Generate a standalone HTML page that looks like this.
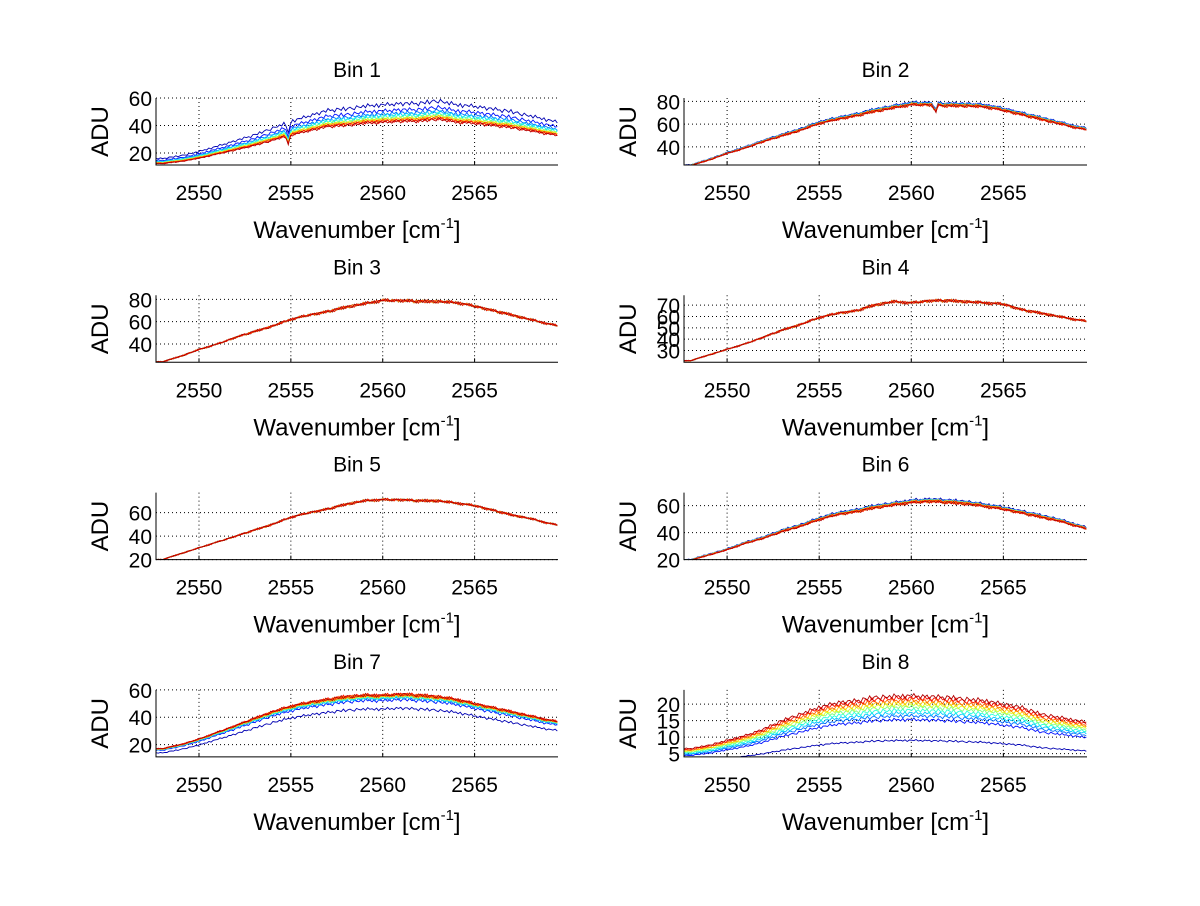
<!DOCTYPE html>
<html><head><meta charset="utf-8"><style>
body{margin:0;background:#fff;}
svg text{font-family:"Liberation Sans",Arial,sans-serif;fill:#000;}
</style></head><body>
<svg id="fig" width="1200" height="901" xmlns="http://www.w3.org/2000/svg"></svg>
<script>
// x samples (wavenumber, cm-1)
const waveX=[2548,2549,2550,2551,2552,2553,2554,2555,2556,2557,2558,2559,2560,2561,2562,2563,2564,2565,2566,2567,2568,2569,2570];
// reference curve per bin
const bin1Ref=[16,18,21,25,29,33,38,43,47,51,52,54,55,56,56,58,55,54,52,50,47,44,41];
const bin2Ref=[24,29,35,40,46,51,56,62,66,69,73,76,79,79,78,78,77,74,70,66,62,58,55];
const bin3Ref=[24,29,35,40,46,51,56,62,66,69,73,76,79,79,78,78,77,74,70,66,62,58,55];
const bin4Ref=[21,26,31,36,42,48,53,59,63,65,70,73,72,74,74,73,72,71,66,63,60,57,55];
const bin5Ref=[20,25,30,35,40,45,50,56,60,63,67,70,71,71,70,70,68,66,62,58,55,51,48];
const bin6Ref=[20,24,28,33,37,42,46,51,55,57,60,62,64,65,64,63,61,59,56,53,50,46,42];
const bin7Ref=[17,20,24,29,34,39,44,48,51,53,55,56,56,57,56,55,53,50,47,44,41,38,36];
const bin8Ref=[6.5,7.5,9,10.5,12.5,15,17,19,20.5,21,22,22.3,22.5,22.3,22,21.5,21,20,19,17,16,15,14];
// line multipliers (blue -> red)
const bin1Mult=[1,0.92,0.88,0.86,0.84,0.82,0.81,0.8,0.79,0.78,0.77];
const bin2Mult=[1,0.995,0.99,0.99,0.985,0.985,0.98,0.98,0.98,0.975,0.975];
const bin3Mult=[1,1,1,1,1,1,1,1,1,1,1];
const bin4Mult=[1,1,1,1,1,1,1,1,1,1,1];
const bin5Mult=[1,1,1,1,1,1,1,1,1,1,1];
const bin6Mult=[1,0.99,0.99,0.985,0.985,0.98,0.98,0.98,0.975,0.975,0.97];
const bin7Mult=[0.82,0.93,0.95,0.96,0.97,0.98,0.985,0.99,0.995,1,1];
const bin8Mult=[0.4,0.68,0.73,0.77,0.81,0.85,0.88,0.91,0.94,0.97,1];
// spectral dips [position, fractional depth]
const bin1Dips=[[2554.85,0.2]];
const bin2Dips=[[2561.3,0.1]];
// measured noise pattern (fraction)
const noise=[0.4,-0.6,0.9,-0.2,0.1,-1,0.7,0.3,-0.5,1,-0.8,0.2,0.6,-0.3,-0.9,0.8,0,-0.4,0.5,-0.7,1,-0.1,0.3,-0.6,0.7,-1,0.4,0.2,-0.3,0.9,-0.5,0.1,-0.8,0.6,-0.2,0.5,-1,0.3];
// y ranges and ticks
const yLims=[[11.3,60],[24,83],[23.6,83.6],[19.6,78.7],[20,77],[20,69.6],[11,60],[4,24.3]];
const yTicks=[[20,40,60],[40,60,80],[40,60,80],[30,40,50,60,70],[20,40,60],[20,40,60],[20,40,60],[5,10,15,20]];
const xTicks=[2550,2555,2560,2565];
const refs=[bin1Ref,bin2Ref,bin3Ref,bin4Ref,bin5Ref,bin6Ref,bin7Ref,bin8Ref];
const mults=[bin1Mult,bin2Mult,bin3Mult,bin4Mult,bin5Mult,bin6Mult,bin7Mult,bin8Mult];
const dips=[bin1Dips,bin2Dips,[],[],[],[],[],[]];
const noiseAmp=[0.03,0.02,0.02,0.02,0.018,0.02,0.025,0.035];

const svg=document.getElementById('fig');
const NS='http://www.w3.org/2000/svg';
function mk(t,a,p){const e=document.createElementNS(NS,t);for(const k in a)e.setAttribute(k,a[k]);(p||svg).appendChild(e);return e;}
function jet(t){const r=Math.min(Math.max(Math.min(4*t-1.5,-4*t+4.5),0),1),g=Math.min(Math.max(Math.min(4*t-0.5,-4*t+3.5),0),1),b=Math.min(Math.max(Math.min(4*t+0.5,-4*t+2.5),0),1);return `rgb(${Math.round(r*255)},${Math.round(g*255)},${Math.round(b*255)})`;}
function interp(x,xs,ys){if(x<=xs[0])return ys[0];for(let i=1;i<xs.length;i++){if(x<=xs[i]){const f=(x-xs[i-1])/(xs[i]-xs[i-1]);return ys[i-1]+f*(ys[i]-ys[i-1]);}}return ys[ys.length-1];}
const X0=2547.66,X1=2569.54;
for(let b=0;b<8;b++){
  const col=b%2,row=Math.floor(b/2);
  const L=col?684:156,R=col?1087:558,T=98+row*197.3,B=165+row*197.3;
  const g=mk('g',{});
  
  
  const sx=x=>L+(x-X0)/(X1-X0)*(R-L);
  const [y0,y1]=yLims[b];
  const sy=y=>B-(y-y0)/(y1-y0)*(B-T);
  xTicks.forEach(t=>{const l=mk('line',{x1:sx(t),x2:sx(t),y1:T,y2:B,stroke:'#000','stroke-width':1,'stroke-dasharray':'1,3'},g);
    const tk=mk('line',{x1:sx(t),x2:sx(t),y1:B,y2:B-4,stroke:'#000'},g);
    const tx=mk('text',{x:sx(t),y:B+35,'text-anchor':'middle','font-size':21},g);tx.textContent=t;});
  yTicks[b].forEach(t=>{const l=mk('line',{x1:L,x2:R,y1:sy(t),y2:sy(t),stroke:'#000','stroke-width':1,'stroke-dasharray':'1,3'},g);
    const tx=mk('text',{x:L-4,y:sy(t)+8,'text-anchor':'end','font-size':21},g);tx.textContent=t;});
  const cp=mk('clipPath',{id:'c'+b},g);mk('rect',{x:L,y:T-8,width:R-L,height:B-T+8},cp);
  const m=mults[b];
  for(let k=0;k<m.length;k++){
    let d='';let i=0;
    for(let x=X0;x<=X1+0.05;x+=0.12,i++){
      let v=interp(x,waveX,refs[b])*m[k];
      dips[b].forEach(([p,dp])=>{v*=1-dp*Math.max(0,1-Math.abs(x-p)/0.15);});
      v*=1+noiseAmp[b]*noise[(i+(k%3))%noise.length];
      d+=(i?'L':'M')+sx(x).toFixed(1)+' '+sy(v).toFixed(1);
    }
    const p=mk('path',{d:d,fill:'none',stroke:jet(0.05+0.9*k/(m.length-1)),'stroke-width':0.9,'clip-path':'url(#c'+b+')'},g);
    
    
  }
  const ax=mk('path',{d:`M${L} ${T}L${L} ${B}L${R} ${B}`,fill:'none',stroke:'#000','stroke-width':1},g);
  
  const ti=mk('text',{x:(L+R)/2,y:T-21,'text-anchor':'middle','font-size':21},g);ti.textContent='Bin '+(b+1);
  
  const yl=mk('text',{x:0,y:0,'text-anchor':'middle','font-size':24,transform:`translate(${L-48},${(T+B)/2}) rotate(-90)`},g);yl.textContent='ADU';
  
  const xl=mk('text',{x:(L+R)/2,y:B+73,'text-anchor':'middle','font-size':24},g);
  xl.innerHTML='Wavenumber [cm<tspan dy="-10" font-size="15">-1</tspan><tspan dy="10">]</tspan>';
  
}
</script>
</body></html>
